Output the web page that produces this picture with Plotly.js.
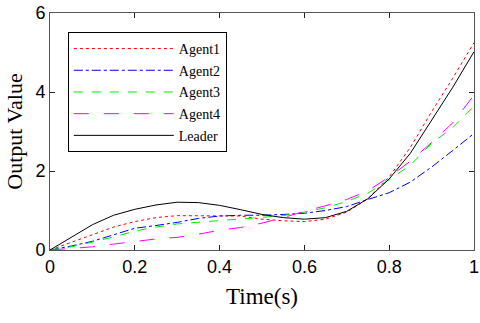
<!DOCTYPE html>
<html>
<head>
<meta charset="utf-8">
<script src="https://cdn.plot.ly/plotly-3.0.1.min.js"></script>
<style>
  html, body { margin: 0; padding: 0; background: #fff; }
  #chart { width: 480px; height: 323px; }
</style>
</head>
<body>
<div id="chart"></div>
<script>
// time samples (s)
const t = [0, 0.05, 0.1, 0.15, 0.2, 0.25, 0.3, 0.35, 0.4, 0.45, 0.5,
           0.55, 0.6, 0.65, 0.7, 0.75, 0.8, 0.85, 0.9, 0.95, 1.0];

// values
const agent1 = [0, 0.2, 0.4, 0.58, 0.72, 0.82, 0.87, 0.87, 0.87, 0.86, 0.78,
                0.74, 0.72, 0.78, 0.96, 1.3, 1.85, 2.6, 3.5, 4.35, 5.25];
const agent2 = [0, 0.1, 0.22, 0.38, 0.55, 0.62, 0.7, 0.8, 0.86, 0.88, 0.88,
                0.9, 0.93, 1.0, 1.1, 1.28, 1.45, 1.72, 2.1, 2.52, 2.95];
const agent3 = [0, 0.08, 0.2, 0.33, 0.48, 0.58, 0.66, 0.7, 0.74, 0.78, 0.82,
                0.87, 0.96, 1.07, 1.23, 1.44, 1.78, 2.15, 2.7, 3.1, 3.64];
const agent4 = [0, 0.04, 0.08, 0.15, 0.22, 0.28, 0.32, 0.4, 0.5, 0.57, 0.68,
                0.82, 0.98, 1.12, 1.28, 1.5, 1.85, 2.25, 2.72, 3.22, 3.92];
const leader = [0, 0.33, 0.64, 0.88, 1.03, 1.14, 1.21, 1.2, 1.13, 1.02, 0.9,
                0.82, 0.78, 0.82, 0.98, 1.3, 1.8, 2.45, 3.3, 4.12, 5.02];

const names = ['Agent1', 'Agent2', 'Agent3', 'Agent4', 'Leader'];
const series = [agent1, agent2, agent3, agent4, leader];
const colors = ['#ff0000', '#0000ff', '#00ee00', '#ff00ff', '#000000'];
const dashes = ['dot', 'dashdot', 'dash', 'longdash', 'solid'];

const traces = series.map((y, i) => ({
  x: t,
  y: y,
  type: 'scatter',
  mode: 'lines',
  name: names[i],
  legendgroup: 'g' + i,
  line: { color: colors[i], width: 1, dash: dashes[i] }
}));

const serif = 'Liberation Serif, Times New Roman, serif';

const axisCommon = {
  showgrid: false,
  zeroline: false,
  showline: true,
  linecolor: '#555',
  linewidth: 1,
  mirror: 'ticks',
  ticks: 'inside',
  ticklen: 5,
  tickcolor: '#222',
  tickfont: { family: 'Liberation Sans, Arial, sans-serif', size: 18, color: '#000' }
};

const layout = {
  width: 480,
  height: 323,
  margin: { l: 50, r: 6, t: 13, b: 73 },
  paper_bgcolor: '#fff',
  plot_bgcolor: '#fff',
  showlegend: true,
  xaxis: Object.assign({}, axisCommon, {
    range: [0, 1],
    tickvals: [0, 0.2, 0.4, 0.6, 0.8, 1],
    ticktext: ['0', '0.2', '0.4', '0.6', '0.8', '1'],
    title: { text: 'Time(s)', font: { family: serif, size: 23, color: '#000' }, standoff: 12 }
  }),
  yaxis: Object.assign({}, axisCommon, {
    range: [0, 6],
    tickvals: [0, 2, 4, 6],
    title: { text: 'Output Value', font: { family: serif, size: 22, color: '#000' }, standoff: 6 }
  }),
  legend: {
    x: 0.042, y: 0.92, xanchor: 'left', yanchor: 'top',
    bgcolor: '#fff',
    bordercolor: '#000',
    borderwidth: 1,
    itemwidth: 100,
    traceorder: 'grouped',
    tracegroupgap: 0.5,
    font: { family: serif, size: 14, color: '#000' }
  }
};

Plotly.newPlot('chart', traces, layout, { displayModeBar: false, staticPlot: true });
</script>
</body>
</html>
